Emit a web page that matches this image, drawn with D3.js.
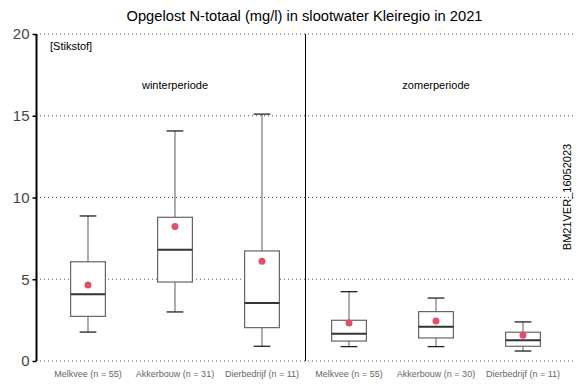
<!DOCTYPE html>
<html><head><meta charset="utf-8">
<script src="https://cdn.jsdelivr.net/npm/d3@7"></script>
<style>body{margin:0;background:#fff}svg{display:block}</style>
</head><body>
<script>
const categories = ["Melkvee (n = 55)","Akkerbouw (n = 31)","Dierbedrijf (n = 11)","Melkvee (n = 55) ","Akkerbouw (n = 30)","Dierbedrijf (n = 11) "];
const whiskerLow = [1.77, 3.0, 0.9, 0.88, 0.88, 0.61];
const q1 =        [2.73, 4.83, 2.04, 1.22, 1.41, 0.9];
const median =    [4.08, 6.81, 3.55, 1.67, 2.1, 1.27];
const q3 =        [6.07, 8.79, 6.73, 2.49, 3.02, 1.76];
const whiskerHigh=[8.87, 14.07, 15.1, 4.24, 3.85, 2.39];
const means =     [4.65, 8.22, 6.1, 2.32, 2.45, 1.57];
const yTicks = [0,5,10,15,20];
const periods = ["winterperiode","zomerperiode"];

const W=584,H=389;
const svg=d3.select("body").append("svg").attr("width",W).attr("height",H);
const y=d3.scaleLinear().domain([0,20]).range([361,34]);
const x=d3.scaleBand().domain(categories).range([44.5,566.5]).paddingInner(0.6).paddingOuter(0.3);
const font="Liberation Sans, Arial, sans-serif";

// grid
svg.append("g").selectAll("line").data(yTicks).join("line")
 .attr("x1",40).attr("x2",574).attr("y1",d=>y(d)).attr("y2",d=>y(d))
 .attr("stroke","#555").attr("stroke-width",1).attr("stroke-dasharray","1,3");

// y axis
const ya=svg.append("g").attr("transform","translate(36.5,0)")
 .call(d3.axisLeft(y).tickValues(yTicks).tickSize(4).tickPadding(3).tickFormat(d3.format("d")));
ya.select(".domain").attr("stroke","#000").attr("stroke-width",2).attr("d","M0,"+y(20)+"V"+y(0));
ya.selectAll(".tick line").attr("stroke","#000").attr("stroke-width",1.5);
ya.selectAll("text").attr("font-family",font).attr("font-size",15).attr("fill","#444");

// separator
const sep=(x(categories[2])+x.bandwidth()+x(categories[3]))/2;
svg.append("line").attr("x1",sep).attr("x2",sep).attr("y1",y(20)).attr("y2",y(0)).attr("stroke","#000").attr("stroke-width",1);

// x labels
svg.append("g").selectAll("text").data(categories).join("text")
 .attr("x",d=>x(d)+x.bandwidth()/2).attr("y",377).attr("text-anchor","middle")
 .attr("font-family",font).attr("font-size",9).attr("fill","#666").text(d=>d.trim());

// boxes
const g=svg.append("g");
categories.forEach((c,i)=>{
  const cx=x(c)+x.bandwidth()/2, bw=x.bandwidth(), x0=x(c);
  const capW=bw*0.48;
  g.append("line").attr("x1",cx).attr("x2",cx).attr("y1",y(whiskerHigh[i])).attr("y2",y(q3[i])).attr("stroke","#777").attr("stroke-width",1.2);
  g.append("line").attr("x1",cx).attr("x2",cx).attr("y1",y(q1[i])).attr("y2",y(whiskerLow[i])).attr("stroke","#777").attr("stroke-width",1.2);
  g.append("line").attr("x1",cx-capW/2).attr("x2",cx+capW/2).attr("y1",y(whiskerHigh[i])).attr("y2",y(whiskerHigh[i])).attr("stroke","#222").attr("stroke-width",1.3);
  g.append("line").attr("x1",cx-capW/2).attr("x2",cx+capW/2).attr("y1",y(whiskerLow[i])).attr("y2",y(whiskerLow[i])).attr("stroke","#222").attr("stroke-width",1.3);
  g.append("rect").attr("x",x0).attr("width",bw).attr("y",y(q3[i])).attr("height",y(q1[i])-y(q3[i]))
   .attr("fill","#fff").attr("stroke","#666").attr("stroke-width",1.2);
  g.append("line").attr("x1",x0).attr("x2",x0+bw).attr("y1",y(median[i])).attr("y2",y(median[i])).attr("stroke","#333").attr("stroke-width",2);
  g.append("circle").attr("cx",cx).attr("cy",y(means[i])).attr("r",3.5).attr("fill","#E0506A");
});

// texts
svg.append("text").attr("x",304.5).attr("y",21).attr("text-anchor","middle").attr("font-family",font).attr("font-size",14.7).attr("fill","#000")
 .text("Opgelost N-totaal (mg/l) in slootwater Kleiregio in 2021");
svg.append("text").attr("x",50).attr("y",50).attr("font-family",font).attr("font-size",11).text("[Stikstof]");
svg.append("text").attr("x",x(categories[1])+x.bandwidth()/2).attr("y",89).attr("text-anchor","middle").attr("font-family",font).attr("font-size",11).text(periods[0]);
svg.append("text").attr("x",x(categories[4])+x.bandwidth()/2).attr("y",89).attr("text-anchor","middle").attr("font-family",font).attr("font-size",11).text(periods[1]);
svg.append("text").attr("transform","translate(571,197) rotate(-90)").attr("text-anchor","middle").attr("font-family",font).attr("font-size",11).text("BM21VER_16052023");
</script>
</body></html>
